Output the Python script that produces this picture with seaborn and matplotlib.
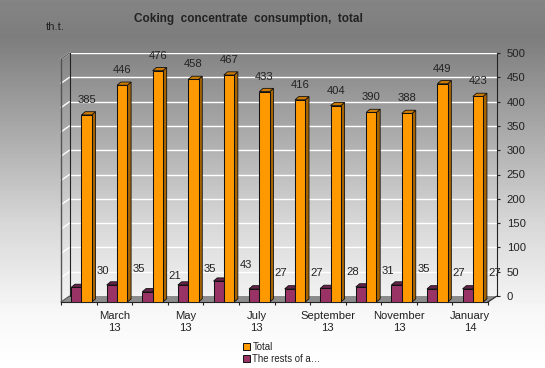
import numpy as np
import pandas as pd
import matplotlib
matplotlib.use("Agg")
import matplotlib.pyplot as plt
import seaborn as sns
from matplotlib.lines import Line2D
from matplotlib.patches import Patch, Polygon

months = ["Feb 13", "March\n13", "Apr 13", "May\n13", "Jun 13", "July\n13", "Aug 13",
          "September\n13", "Oct 13", "November\n13", "Dec 13", "January\n14"]
total = [385, 446, 476, 458, 467, 433, 416, 404, 390, 388, 449, 423]
rests = [30, 35, 21, 35, 43, 27, 27, 28, 31, 35, 27, 27]
y_ticks = [0, 50, 100, 150, 200, 250, 300, 350, 400, 450, 500]

TOTAL_NAME = "Total"
RESTS_NAME = "The rests of a\u2026"
ORANGE = "#ff9900"
MAROON = "#993366"

W, H = 545, 368
TXT = "#222222"

sns.set_theme(style="white")
plt.rcParams["font.family"] = ["Liberation Sans", "DejaVu Sans"]
plt.rcParams["font.size"] = 8


def px_rect(left, top, right, bottom):
    return [left / W, 1 - bottom / H, (right - left) / W, (bottom - top) / H]


def fig_line(xs, ys, **kw):
    fig.add_artist(Line2D([x / W for x in xs], [1 - y / H for y in ys], **kw))


fig = plt.figure(figsize=(W / 100, H / 100), dpi=100)

# background gradient
bg = fig.add_axes([0, 0, 1, 1], zorder=0)
stops_y = [0, 0.1, 0.35, 0.6, 0.85, 1]
stops_c = [0.52, 0.49, 0.66, 0.84, 0.97, 1.0]
grad = np.interp(np.linspace(0, 1, H), stops_y, stops_c).reshape(-1, 1)
bg.imshow(grad, cmap="gray", vmin=0, vmax=1, aspect="auto")
bg.axis("off")

# back wall with the value axis
back = fig.add_axes(px_rect(69.5, 53, 497, 296), zorder=1)
back.patch.set_alpha(0)
back.set_ylim(0, 500)
back.set_xticks([])
back.yaxis.tick_right()
back.set_yticks(y_ticks)
back.tick_params(axis="y", length=2.5, width=0.8, color="#222222", labelsize=8.1,
                 labelcolor=TXT, pad=4.5, direction="out", left=False, right=True)
back.grid(axis="y", color="white", lw=1.0)
for name, sp in back.spines.items():
    sp.set_visible(name in ("left", "right"))
    sp.set_color("#222222")
    sp.set_linewidth(0.8)

# floor and side wall
floor = Polygon([(61 / W, 1 - 302 / H), (69.5 / W, 1 - 296 / H), (497 / W, 1 - 296 / H), (488 / W, 1 - 302 / H)],
                closed=True, fc="#8c8c8c", ec="none", transform=fig.transFigure, zorder=1)
fig.add_artist(floor)
for v in y_ticks[1:]:
    dy = v * 243 / 500
    fig_line([61, 69.5], [302 - dy, 296 - dy], color="white", lw=1.0, zorder=1)
fig_line([61, 61], [302, 59], color="#555555", lw=1.0, zorder=1)
fig_line([61, 69.5], [59, 53], color="#555555", lw=0.8, zorder=1)
fig_line([61, 69.5], [302, 296], color="#555555", lw=0.8, zorder=1)
fig_line([488, 497], [302, 296], color="#222222", lw=0.8, zorder=1)

# front plane with the bars
ax = fig.add_axes(px_rect(61, 59, 488, 302), zorder=2)
ax.patch.set_alpha(0)
df = pd.DataFrame({
    "month": months * 2,
    "value": rests + total,
    "series": [RESTS_NAME] * len(rests) + [TOTAL_NAME] * len(total),
})
sns.barplot(data=df, x="month", y="value", hue="series", order=months,
            hue_order=[RESTS_NAME, TOTAL_NAME], palette=[MAROON, ORANGE],
            width=0.58, gap=0, saturation=1, legend=False, ax=ax,
            edgecolor="#111111", linewidth=0.75)

shift = 2.7 / 35.6
ax.set_xlim(-0.5 - shift, 11.5 - shift)
ax.set_ylim(0, 500)
ax.set_xlabel("")
ax.set_ylabel("")
ax.set_yticks([])

ax.set_xticks(np.arange(1, 12, 2) - shift)
ax.set_xticklabels(months[1::2], color=TXT, fontsize=8.1, linespacing=1.2)
ax.set_xticks(np.arange(0, 13) - 0.5 - shift, minor=True)
ax.tick_params(axis="x", which="major", length=0, pad=6.5)
ax.tick_params(axis="x", which="minor", length=2.5, width=0.8, color="#222222", bottom=True)
for name, sp in ax.spines.items():
    sp.set_visible(name == "bottom")
    sp.set_color("#222222")
    sp.set_linewidth(0.8)

# 3d look: side and top faces for every bar
dxu = 3.7 / 35.6
dyu = 3.2 * 500 / 243
n = len(months)
for i, bar in enumerate(ax.patches[:2 * n]):
    is_total = i >= n
    side_c, top_c = ("#a86400", "#cc7a00") if is_total else ("#4d1a33", "#66224a")
    x0, x1 = bar.get_x(), bar.get_x() + bar.get_width()
    h = bar.get_height()
    bar.set_zorder(6 if is_total else 4)
    z = 5 if is_total else 3
    ax.add_patch(Polygon([(x1, 0), (x1 + dxu, dyu), (x1 + dxu, h + dyu), (x1, h)],
                         fc=side_c, ec="#111111", lw=0.6, zorder=z, clip_on=False))
    ax.add_patch(Polygon([(x0, h), (x0 + dxu, h + dyu), (x1 + dxu, h + dyu), (x1, h)],
                         fc=top_c, ec="#111111", lw=0.6, zorder=z, clip_on=False))

# value labels, the small series is offset to the right as in the source
for i in range(n):
    ax.annotate(str(total[i]), (i, total[i]), xytext=(5, 15), textcoords="offset pixels",
                ha="center", va="center", color=TXT, fontsize=8.1, annotation_clip=False, zorder=8)
    ax.annotate(str(rests[i]), (i - 0.15, rests[i]), xytext=(27, 16), textcoords="offset pixels",
                ha="center", va="center", color=TXT, fontsize=8.1, annotation_clip=False, zorder=8)

fig.text(248 / W, 1 - 19 / H, "Coking  concentrate  consumption,  total", ha="center", va="center",
         fontsize=8.5, fontweight="bold", color=TXT)
fig.text(46 / W, 1 - 27 / H, "th.t.", ha="left", va="center", fontsize=8.1, color=TXT)

handles = [Patch(fc=ORANGE, ec="#111111", lw=0.7, label=TOTAL_NAME),
           Patch(fc=MAROON, ec="#111111", lw=0.7, label=RESTS_NAME)]
leg = fig.legend(handles=handles, loc="upper left", bbox_to_anchor=(241 / W, 1 - 340 / H),
                 frameon=False, fontsize=6.9, handlelength=0.75, handleheight=0.75,
                 handletextpad=0.25, labelspacing=0.22, borderpad=0.2, borderaxespad=0)
for t in leg.get_texts():
    t.set_color(TXT)

fig.patch.set_edgecolor("black")
fig.patch.set_linewidth(1.5)
fig.savefig("out.png", dpi=100, edgecolor="black")
